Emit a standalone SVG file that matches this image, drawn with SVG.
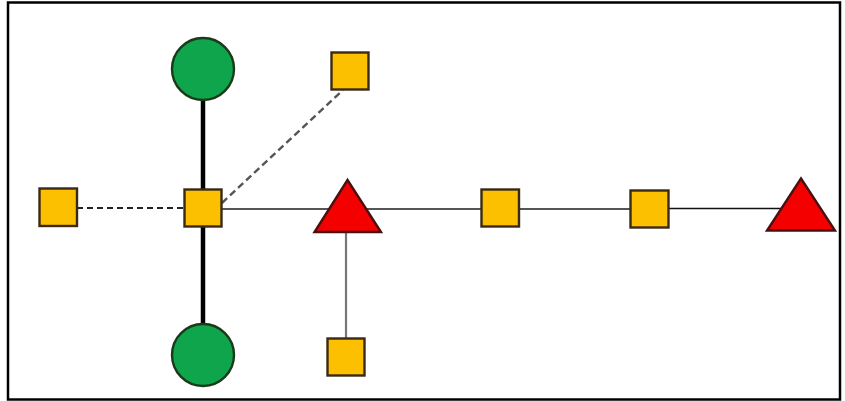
<svg xmlns="http://www.w3.org/2000/svg" width="845" height="401" viewBox="0 0 845 401">
<style>
.sq{fill:#FCC000;stroke:#3a2a14;stroke-width:2.4}
.ci{fill:#0FA54C;stroke:#1a3a1a;stroke-width:2.4}
.tr{fill:#F40000;stroke:#4a1010;stroke-width:2.4;stroke-linejoin:miter}
</style>
<rect x="0" y="0" width="845" height="401" fill="#ffffff"/>
<rect x="8" y="2.5" width="832" height="397" fill="none" stroke="#000" stroke-width="2.5"/>
<g id="connectors">
<line x1="203" y1="69" x2="203" y2="355" stroke="#000" stroke-width="4.5"/>
<line x1="77" y1="208" x2="184" y2="208" stroke="#222" stroke-width="1.8" stroke-dasharray="6,4"/>
<line x1="222" y1="203" x2="343" y2="90" stroke="#555" stroke-width="2.4" stroke-dasharray="7,4"/>
<line x1="222" y1="209" x2="640" y2="209" stroke="#555" stroke-width="2"/>
<line x1="640" y1="208.5" x2="790" y2="208.5" stroke="#111" stroke-width="1.6"/>
<line x1="346" y1="232" x2="346" y2="339" stroke="#777" stroke-width="2.2"/>
</g>
<g id="circle-top"><circle class="ci" cx="203" cy="69" r="31"/></g>
<g id="circle-bottom"><circle class="ci" cx="203" cy="355" r="31"/></g>
<g id="square-center"><rect class="sq" x="184.5" y="189.5" width="37" height="37"/></g>
<g id="square-left"><rect class="sq" x="39.5" y="188.5" width="37.5" height="37.5"/></g>
<g id="square-top"><rect class="sq" x="331.5" y="52.5" width="37" height="37"/></g>
<g id="square-bottom"><rect class="sq" x="327.5" y="338.5" width="37" height="37"/></g>
<g id="square-mid"><rect class="sq" x="481.5" y="189.5" width="37.5" height="37"/></g>
<g id="square-right"><rect class="sq" x="630.5" y="190.5" width="38" height="37"/></g>
<g id="triangle-1"><polygon class="tr" points="347.5,180 381,232 314.5,232"/></g>
<g id="triangle-2"><polygon class="tr" points="801,178.5 835,230.5 767,230.5"/></g>
</svg>
